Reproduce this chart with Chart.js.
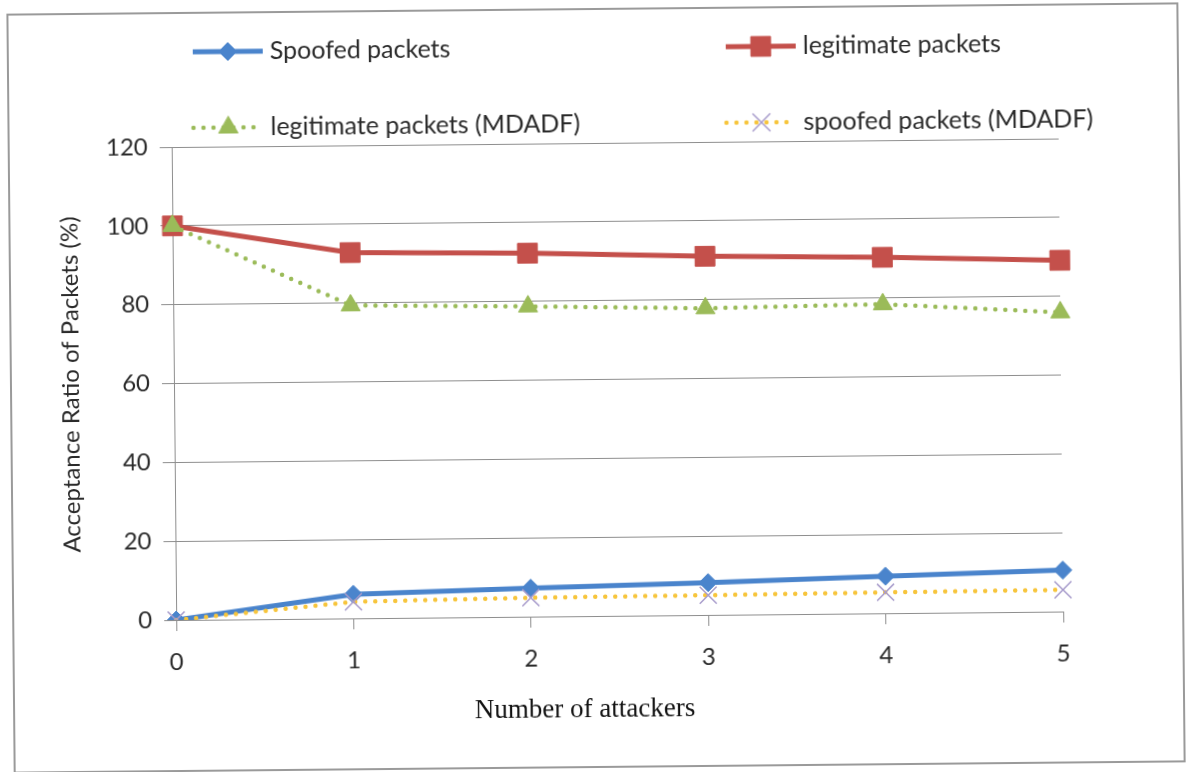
<!DOCTYPE html>
<html>
<head>
<meta charset="utf-8">
<script src="https://cdn.jsdelivr.net/npm/chart.js@4.4.1/dist/chart.umd.min.js"></script>
<style>
  html, body { margin: 0; padding: 0; background: #fff; overflow: hidden; }
  #wrap { width: 1192px; height: 772px; transform: rotate(-0.55deg); transform-origin: 596px 386px; }
  canvas { display: block; }
</style>
</head>
<body>
<div id="wrap"><canvas id="c" width="1192" height="772"></canvas></div>
<script>
// Acceptance ratio (%) of packets versus number of attackers
const attackers = ['0', '1', '2', '3', '4', '5'];
const spoofedPackets = [0, 6.1, 7.2, 8.2, 9.4, 10.5];
const legitimatePackets = [100, 92.8, 92.2, 91.0, 90.3, 89.1];
const legitimateMDADF = [100, 79.4, 78.7, 77.8, 78.4, 75.9];
const spoofedMDADF = [0, 4.2, 4.8, 5.0, 5.3, 5.5];
const yTickValues = [0, 20, 40, 60, 80, 100, 120];

const TEXT = '#2a2a2a';
const GRID = '#8e8e8e';
const BODY_FONT = 'Lato, "Open Sans", sans-serif';

// Two-column legend above the plot, plus the frame and x-axis caption
const chartDecor = {
  id: 'chartDecor',
  beforeDraw(chart) {
    const ctx = chart.ctx;
    ctx.save();
    ctx.fillStyle = '#fff';
    ctx.fillRect(0, 0, chart.width, chart.height);
    ctx.strokeStyle = '#9a9a9a';
    ctx.lineWidth = 2;
    ctx.strokeRect(11, 9, 1170, 758);
    ctx.restore();
  },
  afterDraw(chart) {
    const ctx = chart.ctx;
    const slots = [
      { ds: 0, x: 196, y: 48 },
      { ds: 1, x: 729, y: 48 },
      { ds: 2, x: 196, y: 124 },
      { ds: 3, x: 729, y: 124 }
    ];
    const sampleLen = 70;
    slots.forEach(s => {
      const d = chart.data.datasets[s.ds];
      ctx.save();
      ctx.strokeStyle = d.borderColor;
      ctx.lineWidth = d.borderWidth;
      ctx.lineCap = d.borderCapStyle || 'butt';
      ctx.setLineDash(d.borderDash || []);
      ctx.beginPath();
      ctx.moveTo(s.x, s.y);
      ctx.lineTo(s.x + sampleLen, s.y);
      ctx.stroke();
      ctx.setLineDash([]);
      ctx.fillStyle = d.pointBackgroundColor;
      ctx.strokeStyle = d.pointBorderColor;
      ctx.lineWidth = d.pointBorderWidth;
      Chart.helpers.drawPoint(ctx, {
        pointStyle: d.pointStyle, rotation: 0,
        radius: d.pointRadius, borderWidth: d.pointBorderWidth
      }, s.x + sampleLen / 2, s.y);
      ctx.fillStyle = TEXT;
      ctx.font = '25px ' + BODY_FONT;
      ctx.textBaseline = 'middle';
      ctx.textAlign = 'left';
      ctx.fillText(d.label, s.x + sampleLen + 7, s.y);
      ctx.restore();
    });

    ctx.save();
    ctx.fillStyle = '#111';
    ctx.font = '27px "Liberation Serif", "Times New Roman", serif';
    ctx.textAlign = 'center';
    ctx.textBaseline = 'middle';
    ctx.fillText('Number of attackers', 582, 710);
    ctx.restore();
  }
};

new Chart(document.getElementById('c'), {
  type: 'line',
  data: {
    labels: attackers,
    datasets: [
      {
        label: 'Spoofed packets',
        data: spoofedPackets,
        borderColor: '#4a84cc', borderWidth: 5,
        pointStyle: 'rectRot', pointRadius: 9,
        pointBackgroundColor: '#4a84cc', pointBorderColor: '#4a84cc', pointBorderWidth: 1,
        order: 4
      },
      {
        label: 'legitimate packets',
        data: legitimatePackets,
        borderColor: '#c4504b', borderWidth: 5,
        pointStyle: 'rect', pointRadius: 14,
        pointBackgroundColor: '#c4504b', pointBorderColor: '#c4504b', pointBorderWidth: 1,
        order: 3
      },
      {
        label: 'legitimate packets (MDADF)',
        data: legitimateMDADF,
        borderColor: '#9bbb59', borderWidth: 4.5,
        borderDash: [0, 10], borderCapStyle: 'round',
        pointStyle: 'triangle', pointRadius: 11,
        pointBackgroundColor: '#9bbb59', pointBorderColor: '#9bbb59', pointBorderWidth: 1,
        order: 2
      },
      {
        label: 'spoofed packets (MDADF)',
        data: spoofedMDADF,
        borderColor: '#f7c53c', borderWidth: 4.5,
        borderDash: [0, 10], borderCapStyle: 'round',
        pointStyle: 'crossRot', pointRadius: 12,
        pointBackgroundColor: '#a79bcb', pointBorderColor: '#a79bcb', pointBorderWidth: 1.5,
        order: 1
      }
    ]
  },
  options: {
    responsive: false,
    animation: false,
    devicePixelRatio: 1,
    layout: { padding: { top: 143, right: 131, bottom: 0, left: 0 } },
    elements: { line: { tension: 0 } },
    plugins: { legend: { display: false }, tooltip: { enabled: false } },
    scales: {
      x: {
        type: 'category',
        offset: false,
        grid: { display: true, drawOnChartArea: false, drawTicks: true, tickLength: 11, color: GRID },
        border: { color: GRID, width: 1 },
        ticks: { color: TEXT, font: { family: BODY_FONT, size: 24 }, padding: 17, maxRotation: 0 },
        afterFit(scale) { scale.height = 156; }
      },
      y: {
        min: 0, max: 120,
        afterBuildTicks(scale) { scale.ticks = yTickValues.map(v => ({ value: v })); },
        grid: { color: GRID, lineWidth: 1, tickLength: 12 },
        border: { color: GRID, width: 1 },
        ticks: { color: TEXT, font: { family: BODY_FONT, size: 24 }, padding: 12 },
        title: {
          display: true,
          text: 'Acceptance Ratio of Packets (%)',
          color: TEXT,
          font: { family: BODY_FONT, size: 24 },
          padding: { top: 57, bottom: 0 }
        },
        afterFit(scale) { scale.width = 174; }
      }
    }
  },
  plugins: [chartDecor]
});
</script>
</body>
</html>
